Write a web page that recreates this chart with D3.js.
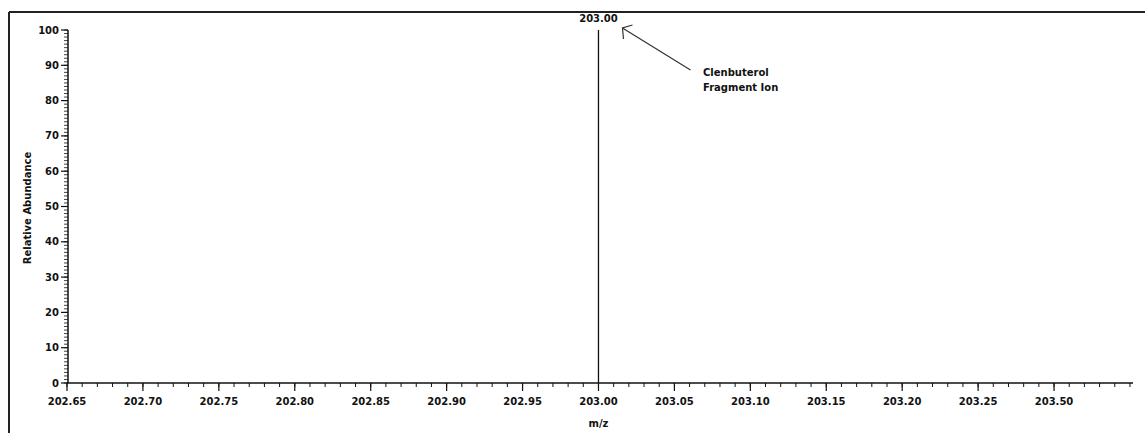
<!DOCTYPE html>
<html>
<head>
<meta charset="utf-8">
<script src="https://cdn.jsdelivr.net/npm/d3@7"></script>
<style>
  body { margin: 0; background: #fff; }
  svg { display: block; }
  text { font-family: "DejaVu Sans", Verdana, sans-serif; font-weight: bold; fill: #111; }
</style>
</head>
<body>
<div id="chart"></div>
<script>
// spectrum data
const peakMz = [203.00];
const peakAbundance = [100];
const peakLabels = ["203.00"];

// axis ticks
const xTicks = [202.65, 202.70, 202.75, 202.80, 202.85, 202.90, 202.95, 203.00, 203.05, 203.10, 203.15, 203.20, 203.25, 203.30];
const xTickLabels = ["202.65", "202.70", "202.75", "202.80", "202.85", "202.90", "202.95", "203.00", "203.05", "203.10", "203.15", "203.20", "203.25", "203.50"];
const yTicks = [0, 10, 20, 30, 40, 50, 60, 70, 80, 90, 100];

const annotation = ["Clenbuterol", "Fragment Ion"];

const w = 1145, h = 433;
const svg = d3.select("#chart").append("svg")
  .attr("width", w)
  .attr("height", h)
  .attr("viewBox", `0 0 ${w} ${h}`);

// frame of the scanned figure
svg.append("line").attr("x1", 9).attr("x2", w).attr("y1", 12).attr("y2", 12)
  .attr("stroke", "#222").attr("stroke-width", 2);
svg.append("line").attr("x1", 9).attr("x2", 9).attr("y1", 12).attr("y2", h)
  .attr("stroke", "#222").attr("stroke-width", 2);

const x = d3.scaleLinear().domain([202.65, 203.352]).range([67, 1133]);
const y = d3.scaleLinear().domain([0, 100]).range([383, 30]);

// x axis: minor ticks every 0.01, major every 0.05
const xMinor = d3.range(0, 71).map(i => 202.65 + i * 0.01);
const xAxisG = svg.append("g").attr("transform", `translate(0,${y(0)})`);
xAxisG.append("line").attr("x1", x.range()[0]).attr("x2", x.range()[1])
  .attr("stroke", "#111").attr("stroke-width", 1.5);
xAxisG.selectAll(".minor").data(xMinor).join("line")
  .attr("x1", d => x(d)).attr("x2", d => x(d))
  .attr("y1", 0).attr("y2", 4)
  .attr("stroke", "#111");
xAxisG.selectAll(".major").data(xTicks).join("line")
  .attr("x1", d => x(d)).attr("x2", d => x(d))
  .attr("y1", 0).attr("y2", 8)
  .attr("stroke", "#111").attr("stroke-width", 1.2);
xAxisG.selectAll(".lbl").data(xTicks).join("text")
  .attr("x", d => x(d)).attr("y", 22)
  .attr("text-anchor", "middle")
  .style("font-size", "10px")
  .text((d, i) => xTickLabels[i]);

// y axis: minor ticks every 1, major every 10
const yAxisG = svg.append("g").attr("transform", `translate(${x.range()[0] + 1},0)`);
yAxisG.append("line").attr("y1", y(0)).attr("y2", y(100))
  .attr("stroke", "#111").attr("stroke-width", 1.5);
yAxisG.selectAll(".minor").data(d3.range(0, 101)).join("line")
  .attr("y1", d => y(d)).attr("y2", d => y(d))
  .attr("x1", -4).attr("x2", 0)
  .attr("stroke", "#111").attr("stroke-width", 0.8);
yAxisG.selectAll(".major").data(yTicks).join("line")
  .attr("y1", d => y(d)).attr("y2", d => y(d))
  .attr("x1", -7).attr("x2", 0)
  .attr("stroke", "#111").attr("stroke-width", 1.2);
yAxisG.selectAll(".lbl").data(yTicks).join("text")
  .attr("x", -9).attr("y", d => y(d) + 3.5)
  .attr("text-anchor", "end")
  .style("font-size", "10px")
  .text(d => d);

// axis titles
svg.append("text")
  .attr("transform", "translate(31,208) rotate(-90)")
  .attr("text-anchor", "middle")
  .style("font-size", "10px")
  .text("Relative Abundance");

svg.append("text")
  .attr("x", x(203.00)).attr("y", 427)
  .attr("text-anchor", "middle")
  .style("font-size", "10px")
  .text("m/z");

// peaks
svg.selectAll(".peak").data(peakMz).join("line")
  .attr("x1", d => x(d)).attr("x2", d => x(d))
  .attr("y1", y(0)).attr("y2", (d, i) => y(peakAbundance[i]))
  .attr("stroke", "#111").attr("stroke-width", 1.3);
svg.selectAll(".peakLbl").data(peakMz).join("text")
  .attr("x", d => x(d)).attr("y", (d, i) => y(peakAbundance[i]) - 8)
  .attr("text-anchor", "middle")
  .style("font-size", "10px")
  .text((d, i) => peakLabels[i]);

// annotation arrow
const tip = [x(203.00) + 24, 28];
const tail = [x(203.00) + 92, 70];
svg.append("line")
  .attr("x1", tail[0]).attr("y1", tail[1]).attr("x2", tip[0]).attr("y2", tip[1])
  .attr("stroke", "#333").attr("stroke-width", 1.2);
svg.append("path")
  .attr("d", `M${tip[0] + 10},${tip[1] - 3} L${tip[0]},${tip[1]} L${tip[0] + 1},${tip[1] + 11}`)
  .attr("fill", "none").attr("stroke", "#333").attr("stroke-width", 1.2);

svg.append("g").selectAll("text").data(annotation).join("text")
  .attr("x", 703).attr("y", (d, i) => 76 + i * 15)
  .style("font-size", "10px")
  .text(d => d);
</script>
</body>
</html>
